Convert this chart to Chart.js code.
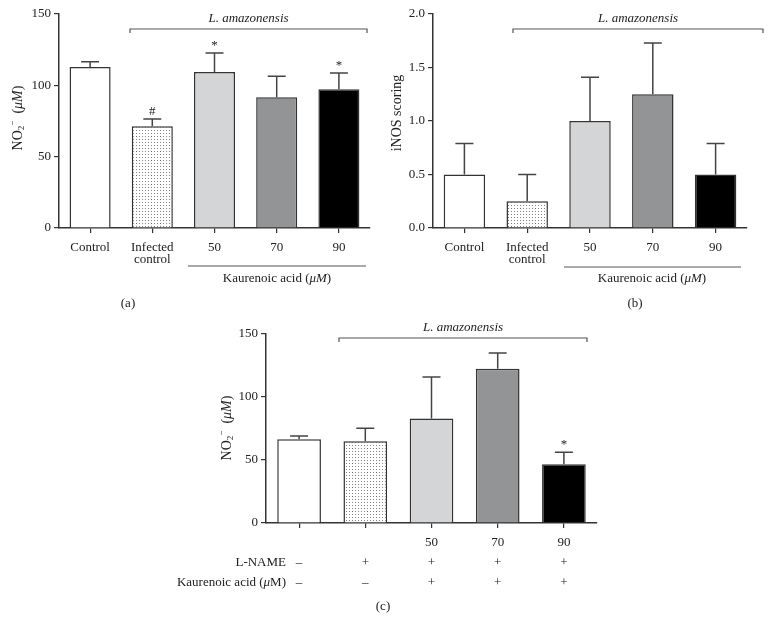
<!DOCTYPE html>
<html>
<head>
<meta charset="utf-8">
<script src="https://cdn.jsdelivr.net/npm/chart.js@4.4.0/dist/chart.umd.min.js"></script>
<style>
html, body { margin: 0; padding: 0; background: #fff; }
#wrap { position: relative; width: 772px; height: 622px; }
#wrap canvas { position: absolute; left: 0; top: 0; }
</style>
</head>
<body>
<div id="wrap">
  <canvas id="chartA" width="772" height="622"></canvas>
  <canvas id="chartB" width="772" height="622"></canvas>
  <canvas id="chartC" width="772" height="622"></canvas>
</div>
<script>
// data
const groupsAB = ['Control', ['Infected', 'control'], '50', '70', '90'];
const groupsC = ['', '', '50', '70', '90'];

const no2MeanA = [112.8, 71.3, 109.3, 91.6, 97.2];
const no2SemA = [3.7, 5.1, 13.3, 14.7, 11.4];
const signifA = ['', '#', '*', '', '*'];

const inosMeanB = [0.5, 0.25, 1.0, 1.25, 0.5];
const inosSemB = [0.29, 0.25, 0.41, 0.48, 0.29];

const no2MeanC = [66.4, 64.8, 82.9, 122.5, 46.6];
const no2SemC = [2.7, 10.4, 33.0, 12.4, 9.5];
const signifC = ['', '', '', '', '*'];

const lnameRow = ['\u2013', '+', '+', '+', '+'];
const kaurenoicRow = ['\u2013', '\u2013', '+', '+', '+'];

const FONT = "'Liberation Serif', 'DejaVu Serif', serif";
const INK = '#222';
const EDGE = '#333';

function dotPattern() {
    const c = document.createElement('canvas');
    c.width = 3; c.height = 3;
    const g = c.getContext('2d');
    g.fillStyle = '#fff';
    g.fillRect(0, 0, 3, 3);
    g.fillStyle = '#808080';
    g.fillRect(1, 1, 1, 1);
    return g.createPattern(c, 'repeat');
}

const fills = ['#ffffff', dotPattern(), '#d4d5d7', '#939495', '#000000'];

// draw a string made of several runs (normal / italic / sub / sup)
function drawRuns(ctx, runs, x, y, rotate) {
    ctx.save();
    ctx.translate(x, y);
    if (rotate) ctx.rotate(-Math.PI / 2);
    let total = 0;
    runs.forEach(r => { ctx.font = r.f; total += ctx.measureText(r.t).width; });
    let px = -total / 2;
    ctx.fillStyle = INK;
    ctx.textBaseline = 'middle';
    ctx.textAlign = 'left';
    runs.forEach(r => {
        ctx.font = r.f;
        ctx.fillText(r.t, px, r.dy || 0);
        px += ctx.measureText(r.t).width;
    });
    ctx.restore();
}

function runsWidth(ctx, runs) {
    let w = 0;
    runs.forEach(r => { ctx.font = r.f; w += ctx.measureText(r.t).width; });
    return w;
}

const n13 = '13px ' + FONT, i13 = 'italic 13px ' + FONT, s9 = '9px ' + FONT;
const n14 = '14px ' + FONT, i14 = 'italic 14px ' + FONT;
const no2Title = [
    { t: 'NO', f: n14 }, { t: '2', f: s9, dy: 4 }, { t: '\u2212', f: s9, dy: -5 },
    { t: '  (', f: n14 }, { t: '\u03bcM', f: i14 }, { t: ')', f: n14 }
];
const kaTitle = [{ t: 'Kaurenoic acid (', f: n13 }, { t: '\u03bcM', f: i13 }, { t: ')', f: n13 }];

function bracket(ctx, x1, x2, y, label) {
    ctx.save();
    ctx.strokeStyle = '#555';
    ctx.lineWidth = 1.2;
    ctx.beginPath();
    ctx.moveTo(x1, y + 4); ctx.lineTo(x1, y); ctx.lineTo(x2, y); ctx.lineTo(x2, y + 4);
    ctx.stroke();
    ctx.restore();
    drawRuns(ctx, [{ t: label, f: i13 }], (x1 + x2) / 2, y - 10, false);
}

function hline(ctx, x1, x2, y) {
    ctx.save();
    ctx.strokeStyle = '#555';
    ctx.lineWidth = 1.2;
    ctx.beginPath();
    ctx.moveTo(x1, y); ctx.lineTo(x2, y);
    ctx.stroke();
    ctx.restore();
}

const errorBars = {
    id: 'errorBars',
    afterDatasetsDraw(chart, args, opts) {
        const ctx = chart.ctx;
        const meta = chart.getDatasetMeta(0);
        const ys = chart.scales.y;
        ctx.save();
        meta.data.forEach((bar, i) => {
            const top = ys.getPixelForValue(opts.mean[i] + opts.sem[i]);
            ctx.strokeStyle = '#444';
            ctx.lineWidth = 1.5;
            ctx.beginPath();
            ctx.moveTo(bar.x, bar.y);
            ctx.lineTo(bar.x, top);
            ctx.moveTo(bar.x - 9, top);
            ctx.lineTo(bar.x + 9, top);
            ctx.stroke();
            if (opts.marks && opts.marks[i]) {
                ctx.fillStyle = INK;
                ctx.font = n13;
                ctx.textAlign = 'center';
                ctx.textBaseline = 'bottom';
                ctx.fillText(opts.marks[i], bar.x, top - 1);
            }
        });
        ctx.restore();
    }
};

const extras = {
    id: 'extras',
    afterDraw(chart, args, opts) {
        if (opts.draw) opts.draw(chart, chart.ctx);
    }
};

function makeChart(id, labels, mean, area, yOpts, plugOpts) {
    const yW = 40, xH = 40;
    return new Chart(document.getElementById(id), {
        type: 'bar',
        data: {
            labels: labels,
            datasets: [{
                data: mean,
                backgroundColor: fills,
                borderColor: EDGE,
                borderWidth: 1.5,
                barPercentage: 0.66,
                categoryPercentage: 1
            }]
        },
        options: {
            responsive: false,
            animation: false,
            events: [],
            layout: {
                padding: {
                    left: area.left - yW,
                    top: area.top,
                    right: 772 - area.right,
                    bottom: 622 - area.bottom - xH
                }
            },
            plugins: {
                legend: { display: false },
                tooltip: { enabled: false },
                errorBars: plugOpts.err,
                extras: { draw: plugOpts.draw }
            },
            scales: {
                x: {
                    afterFit: s => { s.height = xH; },
                    grid: { display: true, drawOnChartArea: false, offset: false, tickLength: 5, color: EDGE, lineWidth: 1.2 },
                    border: { display: true, color: EDGE, width: 1.5 },
                    ticks: { color: INK, font: { family: FONT, size: 13, lineHeight: 0.9 }, padding: 9, autoSkip: false, maxRotation: 0 }
                },
                y: {
                    min: yOpts.min, max: yOpts.max,
                    afterFit: s => { s.width = yW; },
                    grid: { display: true, drawOnChartArea: false, tickLength: 5, color: EDGE, lineWidth: 1.2 },
                    border: { display: true, color: EDGE, width: 1.5 },
                    ticks: { stepSize: yOpts.step, color: INK, font: { family: FONT, size: 13 }, padding: 3, callback: yOpts.fmt }
                }
            }
        },
        plugins: [errorBars, extras]
    });
}

// panel (a)
makeChart('chartA', groupsAB, no2MeanA, { left: 59, top: 14, right: 370, bottom: 228 },
    { min: 0, max: 150, step: 50 },
    {
        err: { mean: no2MeanA, sem: no2SemA, marks: signifA },
        draw(chart, ctx) {
            drawRuns(ctx, no2Title, 18, 118, true);
            bracket(ctx, 130, 367, 29, 'L. amazonensis');
            hline(ctx, 188, 366, 266);
            drawRuns(ctx, kaTitle, 277, 279, false);
            drawRuns(ctx, [{ t: '(a)', f: n13 }], 128, 304, false);
        }
    });

// panel (b)
makeChart('chartB', groupsAB, inosMeanB, { left: 433, top: 14, right: 747, bottom: 228 },
    { min: 0, max: 2, step: 0.5, fmt: v => v.toFixed(1) },
    {
        err: { mean: inosMeanB, sem: inosSemB },
        draw(chart, ctx) {
            drawRuns(ctx, [{ t: 'iNOS scoring', f: n14 }], 397, 113, true);
            bracket(ctx, 513, 763, 29, 'L. amazonensis');
            hline(ctx, 564, 741, 267);
            drawRuns(ctx, kaTitle, 652, 279, false);
            drawRuns(ctx, [{ t: '(b)', f: n13 }], 635, 304, false);
        }
    });

// panel (c)
makeChart('chartC', groupsC, no2MeanC, { left: 266, top: 334, right: 597, bottom: 523 },
    { min: 0, max: 150, step: 50 },
    {
        err: { mean: no2MeanC, sem: no2SemC, marks: signifC },
        draw(chart, ctx) {
            const xs = chart.scales.x;
            drawRuns(ctx, no2Title, 227, 428, true);
            bracket(ctx, 339, 587, 338, 'L. amazonensis');
            const lname = [{ t: 'L-NAME', f: n13 }];
            const ka = [{ t: 'Kaurenoic acid (', f: n13 }, { t: '\u03bc', f: i13 }, { t: 'M)', f: n13 }];
            drawRuns(ctx, lname, 286 - runsWidth(ctx, lname) / 2, 563, false);
            drawRuns(ctx, ka, 286 - runsWidth(ctx, ka) / 2, 583, false);
            lnameRow.forEach((s, i) => {
                drawRuns(ctx, [{ t: s, f: n13 }], xs.getPixelForValue(i), 563, false);
            });
            kaurenoicRow.forEach((s, i) => {
                drawRuns(ctx, [{ t: s, f: n13 }], xs.getPixelForValue(i), 583, false);
            });
            drawRuns(ctx, [{ t: '(c)', f: n13 }], 383, 607, false);
        }
    });
</script>
</body>
</html>
